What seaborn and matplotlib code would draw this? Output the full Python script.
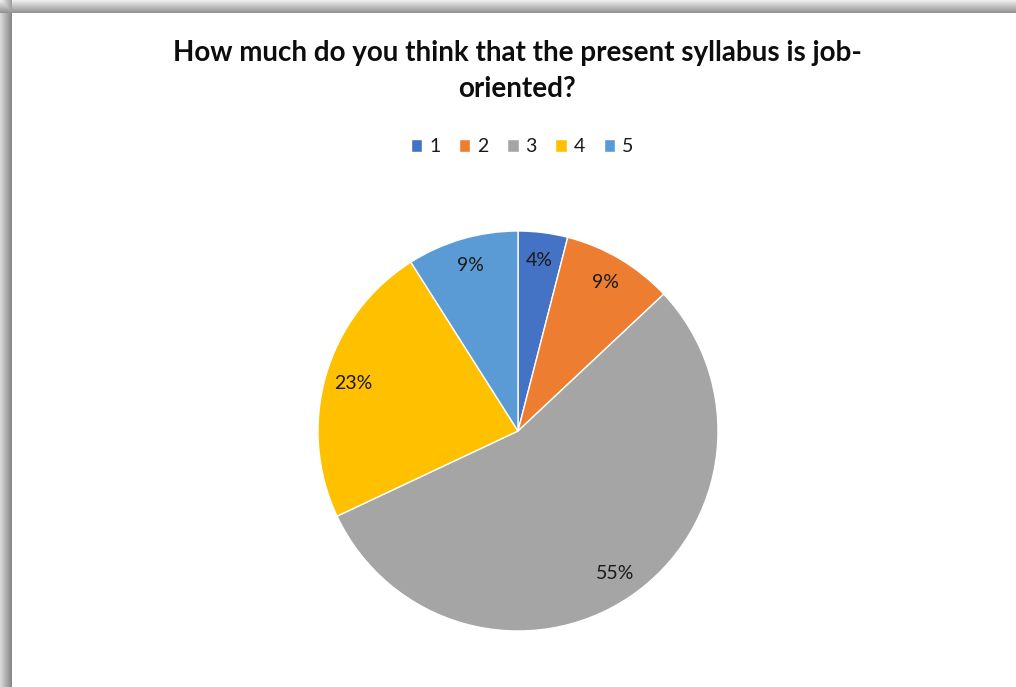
import numpy as np
import matplotlib
matplotlib.use("Agg")
import matplotlib.pyplot as plt
import seaborn as sns

# Data
categories = ["1", "2", "3", "4", "5"]
percentages = [4, 9, 55, 23, 9]
colors = ["#4472C4", "#ED7D31", "#A5A5A5", "#FFC000", "#5B9BD5"]
title = "How much do you think that the present syllabus is job-\noriented?"

sns.set_theme(style="white")
plt.rcParams['font.family'] = ['Lato', 'DejaVu Sans']

W, H = 1016, 687
fig = plt.figure(figsize=(W / 100, H / 100), dpi=100)
fig.patch.set_facecolor("white")

# Shadowed frame background
bg = fig.add_axes([0, 0, 1, 1], zorder=-5)
img = np.ones((H, W))
top_band = 13
left_band = 12
for y in range(top_band):
    img[y, :] = 0.93 - 0.35 * (y / (top_band - 1))
for x in range(left_band):
    img[top_band:, x] = 0.85 - 0.32 * (x / (left_band - 1))
for y in range(top_band):
    for x in range(left_band):
        img[y, x] = min(img[y, x], 0.85 - 0.32 * (x / (left_band - 1)) + 0.1)
bg.imshow(img, cmap="gray", vmin=0, vmax=1, aspect="auto", interpolation="bilinear")
bg.set_axis_off()

# Pie
ax = fig.add_axes([318 / W, (H - 631) / H, 400 / W, 400 / H])
wedges, texts, autotexts = ax.pie(
    percentages,
    colors=colors,
    startangle=90,
    counterclock=False,
    autopct=lambda p: f"{p:.0f}%",
    pctdistance=0.86,
    wedgeprops=dict(edgecolor="white", linewidth=1),
    textprops=dict(fontsize=14, color="#1a1a1a"),
    radius=1,
)
ax.set_xlim(-1, 1)
ax.set_ylim(-1, 1)
ax.set_axis_off()

fig.text(517 / W, 1 - 71 / H, title, ha="center", va="center",
         fontsize=20, fontweight="bold", color="#0d0d0d", linespacing=1.45)

leg = fig.legend(wedges, categories, loc="center", bbox_to_anchor=(522 / W, 1 - 147 / H),
                 ncol=5, frameon=False, fontsize=14, handlelength=0.6, handleheight=0.6,
                 handletextpad=0.35, columnspacing=0.95)
for t in leg.get_texts():
    t.set_color("#1a1a1a")

fig.savefig("out.png", dpi=100, facecolor="white")
